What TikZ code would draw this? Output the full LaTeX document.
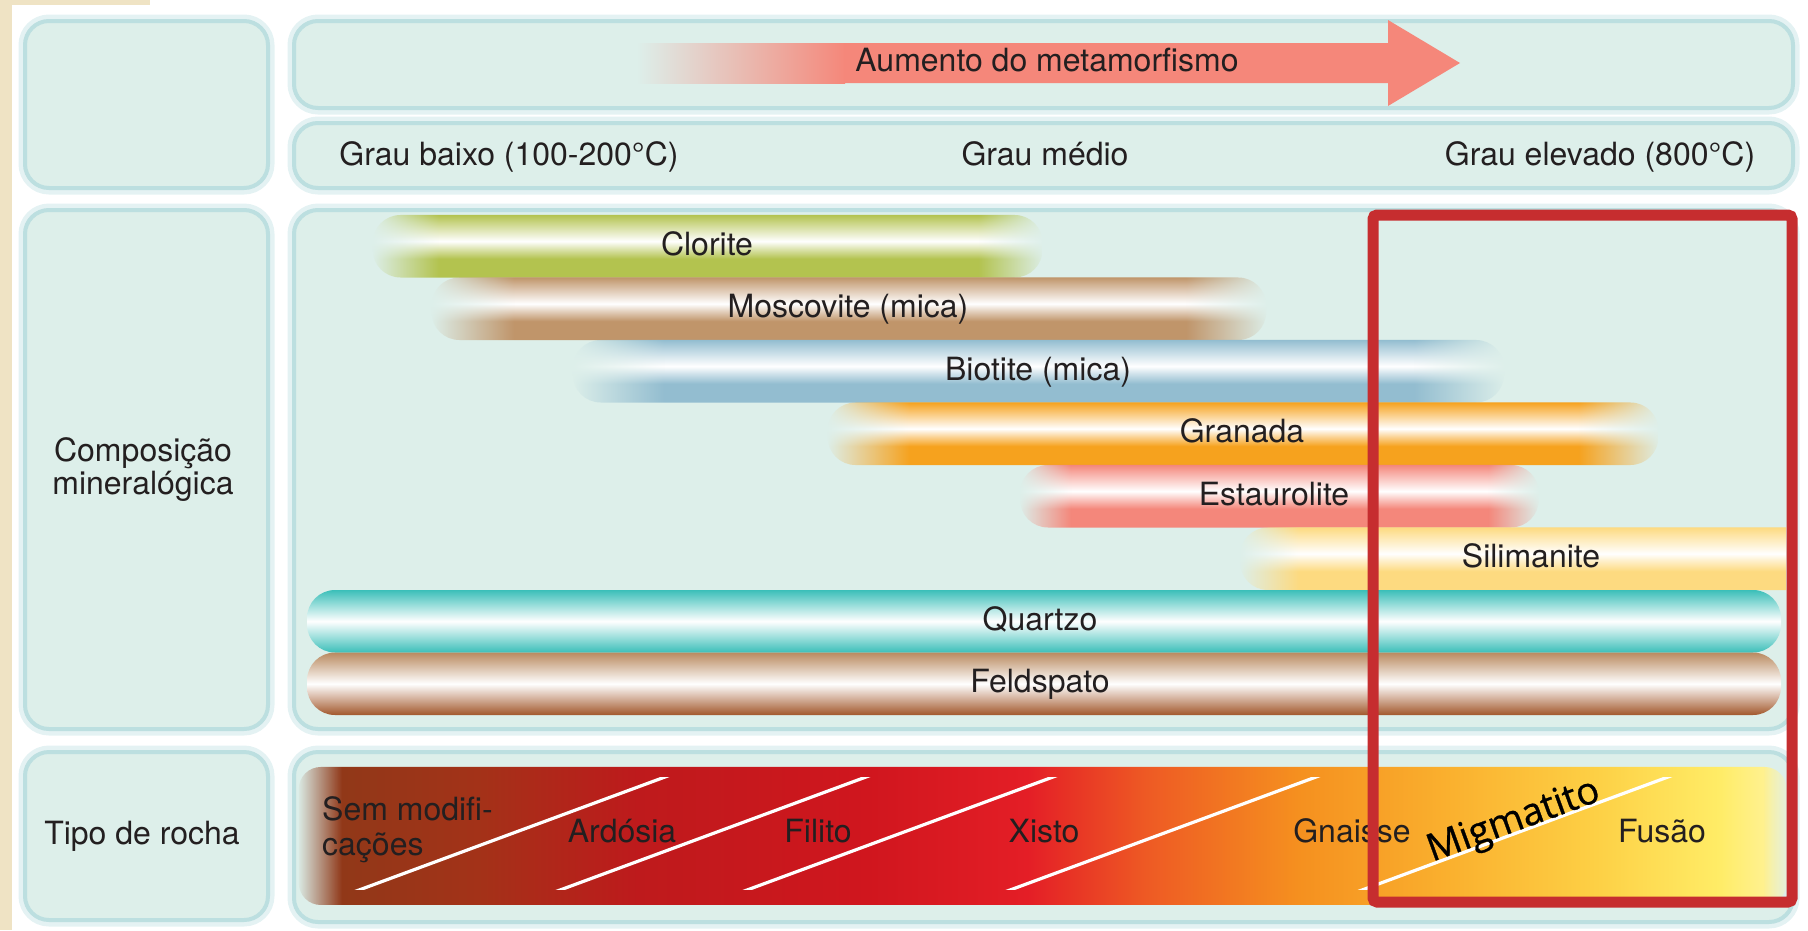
\documentclass[tikz,border=0pt]{standalone}
\usepackage{fontspec}
\setmainfont{TeX Gyre Heros}
\newfontfamily\migfont[FakeBold=0.8]{Open Sans}
\usetikzlibrary{fadings}

% Cores
\definecolor{painel}{HTML}{DDEFEA}
\definecolor{brilho}{HTML}{BCDFE0}
\definecolor{salmao}{HTML}{F5877A}
\definecolor{moldura}{HTML}{C62D2F}
\definecolor{texto}{HTML}{231F20}
\definecolor{bege}{HTML}{EFE3C4}
\definecolor{clorc}{HTML}{B3C34F}
\definecolor{moscc}{HTML}{C0956A}
\definecolor{biotc}{HTML}{93BDD0}
\definecolor{granc}{HTML}{F6A21E}
\definecolor{estac}{HTML}{F4877B}
\definecolor{silic}{HTML}{FDDA80}
\definecolor{quarc}{HTML}{3BBFB9}
\definecolor{feldc}{HTML}{B98A60}
\definecolor{feldb}{HTML}{A2582C}
\definecolor{rocha0}{HTML}{8B3A18}
\definecolor{rocha1}{HTML}{A33218}
\definecolor{rocha2}{HTML}{BE1A1C}
\definecolor{rocha3}{HTML}{D0161E}
\definecolor{rocha4}{HTML}{E41E26}
\definecolor{rocha5}{HTML}{EE5A24}
\definecolor{rocha6}{HTML}{F5901F}
\definecolor{rocha7}{HTML}{FAB02E}
\definecolor{rocha8}{HTML}{FDD045}
\definecolor{rocha9}{HTML}{FFEC66}

% Sombreados
\colorlet{barc}{clorc}
\pgfdeclareverticalshading[barc]{barsh}{100bp}{color(0bp)=(barc); color(40bp)=(barc);
  color(48bp)=(barc!45!white); color(54bp)=(white); color(70bp)=(barc!75!white);
  color(75bp)=(barc); color(100bp)=(barc)}
\pgfdeclarehorizontalshading{rochash}{100bp}{color(0bp)=(rocha0); color(25bp)=(rocha0);
  color(31bp)=(rocha1); color(36.4bp)=(rocha2); color(44.1bp)=(rocha3);
  color(49.5bp)=(rocha4); color(53.5bp)=(rocha5); color(58.6bp)=(rocha6);
  color(63.6bp)=(rocha7); color(68.6bp)=(rocha8); color(72.7bp)=(rocha9);
  color(75bp)=(rocha9!60!white); color(100bp)=(rocha9!60!white)}

% Desvanecimentos
\pgfdeclarehorizontalshading{pontash}{100bp}{color(0bp)=(black); color(25bp)=(black);
  color(30bp)=(white); color(70bp)=(white); color(75bp)=(black); color(100bp)=(black)}
\pgfdeclarefading{pontas}{\pgfuseshading{pontash}}
\pgfdeclarehorizontalshading{esqsh}{100bp}{color(0bp)=(black); color(25bp)=(black);
  color(30bp)=(white); color(100bp)=(white)}
\pgfdeclarefading{esquerda}{\pgfuseshading{esqsh}}
\pgfdeclarehorizontalshading{rochafsh}{100bp}{color(0bp)=(black); color(25bp)=(black);
  color(26.5bp)=(white); color(74bp)=(white); color(75bp)=(black); color(100bp)=(black)}
\pgfdeclarefading{rochafade}{\pgfuseshading{rochafsh}}

\begin{document}
\begin{tikzpicture}[x=1pt, y=-1pt,
    painel/.style={fill=painel, draw=brilho, line width=4pt, rounded corners=24pt,
      preaction={draw=brilho!40, line width=13pt}},
    rotulo/.style={text=texto, font=\fontsize{32}{34}\selectfont, inner sep=0pt, anchor=base},
    barra/.style={shading=barsh, rounded corners=28pt},
    traco/.style={white, line width=3.2pt}]
	\useasboundingbox (0,0) rectangle (1808,930);
	
	% Fundo
	\fill[bege] (0,0) rectangle (12,930);
	\fill[bege] (0,0) rectangle (150,5);
	
	% Paineis
	\draw[painel] (25,21) rectangle (268,188);
	\draw[painel] (294,21) rectangle (1793,108);
	\draw[painel] (294,123) rectangle (1793,188);
	\draw[painel] (25,210) rectangle (268,729);
	\draw[painel] (294,210) rectangle (1793,729);
	\draw[painel] (25,752) rectangle (268,920);
	\draw[painel] (294,752) rectangle (1793,922);
	
	% Seta
	\shade[left color=painel, right color=salmao] (637,43) rectangle (845,83);
	\fill[salmao] (844,43) -- (1388,43) -- (1388,20) -- (1460,63) -- (1388,106) -- (1388,83) -- (844,83) -- cycle;
	\node[rotulo] (aumento) at (1047,71) {Aumento do metamorfismo};
	
	% Graus
	\node[rotulo] (baixo) at (509,165) {Grau baixo (100-200°C)};
	\node[rotulo] (medio) at (1045,165) {Grau médio};
	\node[rotulo] (elevado) at (1600,165) {Grau elevado (800°C)};
	
	% Rotulos da esquerda
	\node[rotulo] (compos) at (143,461) {Composição};
	\node[rotulo] (miner) at (143,494) {mineralógica};
	\node[rotulo] (tipo) at (142,844) {Tipo de rocha};
	
	% Minerais
	\foreach \ya/\xa/\xb/\cor/\xt/\nome/\txt in {
		215/373/1044/clorc/707/clorite/Clorite,
		277.5/432/1268/moscc/848/moscovite/Moscovite (mica),
		340/573/1505/biotc/1038/biotite/Biotite (mica),
		402.5/828/1660/granc/1242/granada/Granada,
		465/1020/1539/estac/1274/estaurolite/Estaurolite}{
		\colorlet{barc}{\cor}
		\shade[barra, path fading=pontas] (\xa,\ya) rectangle (\xb,\ya+62.5);
		\node[rotulo] (\nome) at (\xt,\ya+40) {\txt};}
	\begin{scope}
		\clip (0,0) rectangle (1786,930);
		\colorlet{barc}{silic}
		\shade[barra, path fading=esquerda] (1240,527.5) rectangle (1840,590);
	\end{scope}
	\node[rotulo] (silimanite) at (1531,567.5) {Silimanite};
	\shade[top color=quarc, bottom color=quarc, middle color=white, rounded corners=28pt] (307,590) rectangle (1781,652.5);
	\node[rotulo] (quartzo) at (1040,630) {Quartzo};
	\shade[top color=feldc, bottom color=feldb, middle color=white, rounded corners=28pt] (307,652.5) rectangle (1781,715);
	\node[rotulo] (feldspato) at (1040,692.5) {Feldspato};
	
	% Rochas
	\shade[shading=rochash, path fading=rochafade, rounded corners=22pt] (300,767) rectangle (1790,905);
	\begin{scope}
		\clip (0,777) rectangle (1808,889);
		\foreach \xb in {362,563,750,1013,1365}{
			\draw[traco] (\xb-30,900) -- (\xb+330,767);}
	\end{scope}
	\node[rotulo, anchor=base west] (sem) at (322,820) {Sem modifi-};
	\node[rotulo, anchor=base west] (cacoes) at (322,855) {cações};
	\node[rotulo] (ardosia) at (622,842) {Ardósia};
	\node[rotulo] (filito) at (818,842) {Filito};
	\node[rotulo] (xisto) at (1044,842) {Xisto};
	\node[rotulo] (gnaisse) at (1352,842) {Gnaisse};
	\node[rotulo] (fusao) at (1662,842) {Fusão};
	\node[black, font=\migfont\fontsize{38}{40}\selectfont, rotate=20, inner sep=0pt] (migmatito) at (1514,822) {Migmatito};
	
	% Moldura
	\draw[moldura, line width=11pt, rounded corners=4pt] (1373,215) rectangle (1792,902);
\end{tikzpicture}
\end{document}
